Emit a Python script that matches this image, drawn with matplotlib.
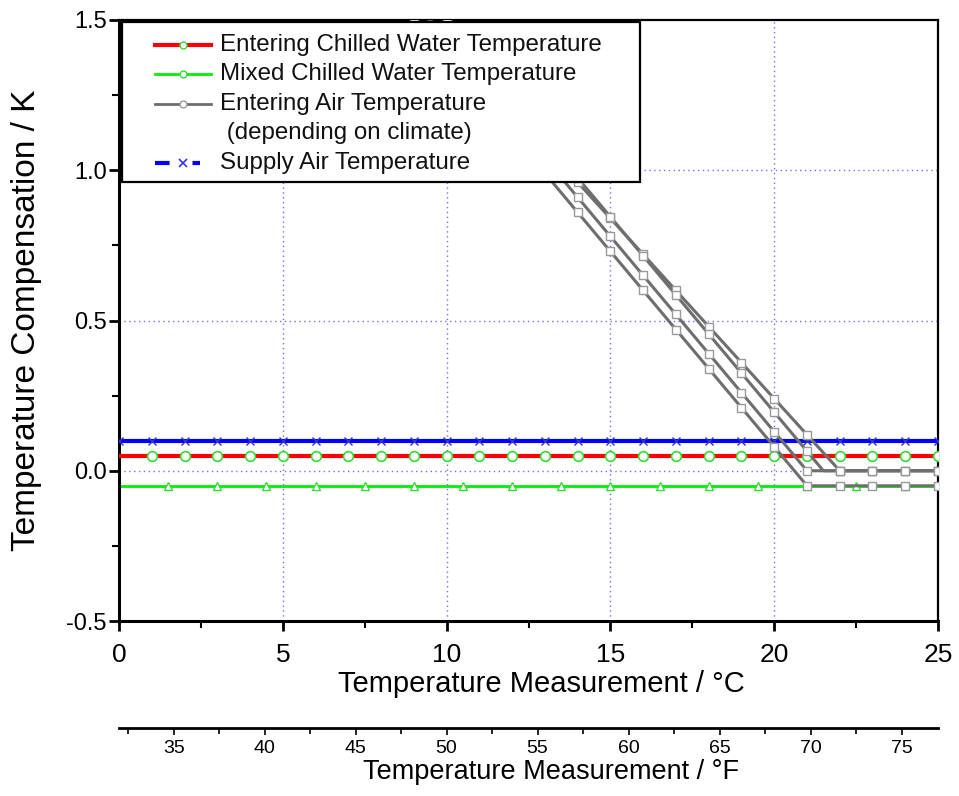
import matplotlib
matplotlib.use("Agg")
import matplotlib.pyplot as plt
from matplotlib.lines import Line2D
from matplotlib.patches import Rectangle
import numpy as np

plt.rcParams['font.family'] = ['Liberation Sans', 'DejaVu Sans']

# ---------------- data ----------------
x_int = [0, 1, 2, 3, 4, 5, 6, 7, 8, 9, 10, 11, 12, 13, 14, 15, 16, 17, 18, 19, 20, 21, 22, 23, 24, 25]
supply_air = [0.10] * len(x_int)
entering_cw = [0.05] * len(x_int)

mixed_x = [0, 1.5, 3, 4.5, 6, 7.5, 9, 10.5, 12, 13.5, 15, 16.5, 18, 19.5, 21, 22.5, 24, 25]
mixed_cw = [-0.05] * len(mixed_x)

# Entering air temperature curves (depending on climate)
air_a_x = [9, 10, 11, 12, 13, 14, 15, 16, 17, 18, 19, 20, 21, 22, 23, 24, 25]
air_a_y = [1.56, 1.44, 1.32, 1.20, 1.08, 0.96, 0.84, 0.72, 0.60, 0.48, 0.36, 0.24, 0.12, 0.00, 0.00, 0.00, 0.00]

air_b_x = [9, 10, 11, 12, 13, 14, 15, 16, 17, 18, 19, 20, 21, 21.5, 22, 23, 24, 25]
air_b_y = [1.625, 1.495, 1.365, 1.235, 1.105, 0.975, 0.845, 0.715, 0.585, 0.455, 0.325, 0.195, 0.065, 0.00, 0.00, 0.00, 0.00, 0.00]

air_c_x = [9, 10, 11, 12, 13, 14, 15, 16, 17, 18, 19, 20, 21, 22, 23, 24, 25]
air_c_y = [1.56, 1.43, 1.30, 1.17, 1.04, 0.91, 0.78, 0.65, 0.52, 0.39, 0.26, 0.13, 0.00, 0.00, 0.00, 0.00, 0.00]

air_d_x = [9, 10, 11, 12, 13, 14, 15, 16, 17, 18, 19, 20, 21, 22, 23, 24, 25]
air_d_y = [1.51, 1.38, 1.25, 1.12, 0.99, 0.86, 0.73, 0.60, 0.47, 0.34, 0.21, 0.08, -0.05, -0.05, -0.05, -0.05, -0.05]

legend_labels = ["Entering Chilled Water Temperature",
                 "Mixed Chilled Water Temperature",
                 "Entering Air Temperature",
                 " (depending on climate)",
                 "Supply Air Temperature"]

# ---------------- figure ----------------
fig = plt.figure(figsize=(9.59, 7.96), dpi=100)
AX_L, AX_R, AX_T, AX_B = 119, 938, 20, 621
ax = fig.add_axes([AX_L/959, 1 - AX_B/796, (AX_R - AX_L)/959, (AX_B - AX_T)/796])

def fx(px):
    return (px - AX_L) / (AX_R - AX_L)

def fy(py):
    return (AX_B - py) / (AX_B - AX_T)

ax.set_xlim(0, 25)
ax.set_ylim(-0.5, 1.5)

grid_kw = dict(color='#6f6ff5', linestyle=(0, (1, 2.5)), linewidth=1.0, zorder=0)
for gx in [5, 10, 15, 20]:
    ax.axvline(gx, **grid_kw)
for gy in [0.0, 0.5, 1.0]:
    ax.axhline(gy, **grid_kw)

# mixed chilled water (green, triangles)
ax.plot(mixed_x, mixed_cw, color='#00ee00', linewidth=2, zorder=2)
ax.plot(mixed_x[1:-1], mixed_cw[1:-1], linestyle='none', marker='^', markersize=6,
        markerfacecolor='white', markeredgecolor='#33dd33', markeredgewidth=1, zorder=2)

# supply air (blue)
ax.plot(x_int, supply_air, color='#0000ff', linewidth=3, marker='x', markersize=6,
        markeredgecolor='#3333cc', markeredgewidth=1, zorder=3)

# entering chilled water (red with green hollow circles)
ax.plot(x_int, entering_cw, color='#ff0000', linewidth=3, zorder=3)
ax.plot(x_int[1:], entering_cw[1:], linestyle='none', marker='o', markersize=7,
        markerfacecolor='white', markeredgecolor='#33dd33', markeredgewidth=1.2, zorder=3)

# entering air curves (gray)
gray_kw = dict(color='#6e6e6e', linewidth=2.2, zorder=4)
mk_kw = dict(linestyle='none', marker='s', markersize=6, markerfacecolor='white',
             markeredgecolor='#999999', markeredgewidth=1, zorder=5)
for xs, ys in [(air_a_x, air_a_y), (air_b_x, air_b_y), (air_c_x, air_c_y), (air_d_x, air_d_y)]:
    ax.plot(xs, ys, **gray_kw)
    mx = [xv for xv in xs if float(xv).is_integer()]
    my = [yv for xv, yv in zip(xs, ys) if float(xv).is_integer()]
    ax.plot(mx, my, **mk_kw)

# axes styling
for side in ['left', 'bottom']:
    ax.spines[side].set_linewidth(2.2)
for side in ['top', 'right']:
    ax.spines[side].set_linewidth(1.6)
ax.set_xticks([0, 5, 10, 15, 20, 25])
ax.set_xticks([2.5, 7.5, 12.5, 17.5, 22.5], minor=True)
ax.set_yticks([-0.5, 0.0, 0.5, 1.0, 1.5])
ax.set_yticklabels(['-0.5', '0.0', '0.5', '1.0', '1.5'])
ax.set_yticks([-0.25, 0.25, 0.75, 1.25], minor=True)
ax.tick_params(axis='both', which='major', direction='out', length=7, width=2)
ax.tick_params(axis='both', which='minor', direction='out', length=5, width=1.5)
ax.tick_params(axis='y', which='major', labelsize=17, pad=2)
ax.tick_params(axis='x', which='major', labelsize=19, pad=9)
ax.set_xlabel("Temperature Measurement / °C", fontsize=21, labelpad=2, x=0.516)
ax.set_ylabel("Temperature Compensation / K", fontsize=24, labelpad=17)

# secondary Fahrenheit axis
def c2f(c):
    return np.asarray(c) * 9.0 / 5.0 + 32.0

def f2c(f):
    return (np.asarray(f) - 32.0) * 5.0 / 9.0

sec = ax.secondary_xaxis(-0.178, functions=(c2f, f2c))
sec.set_xticks([35, 40, 45, 50, 55, 60, 65, 70, 75])
sec.set_xticks([32.5, 37.5, 42.5, 47.5, 52.5, 57.5, 62.5, 67.5, 72.5, 77.5], minor=True)
sec.spines['bottom'].set_linewidth(2)
sec.tick_params(axis='x', which='major', direction='out', length=5, width=1.2, labelsize=14, pad=4)
sec.tick_params(axis='x', which='minor', direction='out', length=4, width=1.2)
sec.set_xlabel("Temperature Measurement / °F", fontsize=19.5, labelpad=1, x=0.527)

# manual legend box
ax.add_patch(Rectangle((fx(122), fy(182)), fx(640) - fx(122), fy(22) - fy(182),
                       transform=ax.transAxes, facecolor='white', edgecolor='black',
                       linewidth=1.6, zorder=10, clip_on=False))
row_y = [fy(45), fy(74), fy(104), fy(133), fy(163)]
h_x0, h_x1, h_xm = fx(155), fx(211), fx(183)
t_x = fx(220)

# handles
ax.add_line(Line2D([h_x0, h_x1], [row_y[0]] * 2, color='#ff0000', linewidth=3,
                   transform=ax.transAxes, zorder=11))
ax.add_line(Line2D([h_xm], [row_y[0]], marker='o', markersize=5, markerfacecolor='white',
                   markeredgecolor='#33dd33', linestyle='none', transform=ax.transAxes, zorder=12))
ax.add_line(Line2D([h_x0, h_x1], [row_y[1]] * 2, color='#00ee00', linewidth=2,
                   transform=ax.transAxes, zorder=11))
ax.add_line(Line2D([h_xm], [row_y[1]], marker='o', markersize=5, markerfacecolor='white',
                   markeredgecolor='#33dd33', linestyle='none', transform=ax.transAxes, zorder=12))
ax.add_line(Line2D([h_x0, h_x1], [row_y[2]] * 2, color='#6e6e6e', linewidth=2,
                   transform=ax.transAxes, zorder=11))
ax.add_line(Line2D([h_xm], [row_y[2]], marker='o', markersize=5, markerfacecolor='white',
                   markeredgecolor='#999999', linestyle='none', transform=ax.transAxes, zorder=12))
ax.add_line(Line2D([h_x0, fx(200)], [row_y[4]] * 2, color='#0000ff', linewidth=3,
                   linestyle=(0, (3.5, 5.5)), transform=ax.transAxes, zorder=11))
ax.add_line(Line2D([h_xm], [row_y[4]], marker='x', markersize=6, markeredgecolor='#3333ff',
                   markeredgewidth=1.2, linestyle='none', transform=ax.transAxes, zorder=12))

for yy, lab in zip(row_y, legend_labels):
    ax.text(t_x, yy, lab, transform=ax.transAxes, fontsize=17.4, va='center', ha='left',
            zorder=13, color='#111111')

fig.savefig("out.png", dpi=100)
